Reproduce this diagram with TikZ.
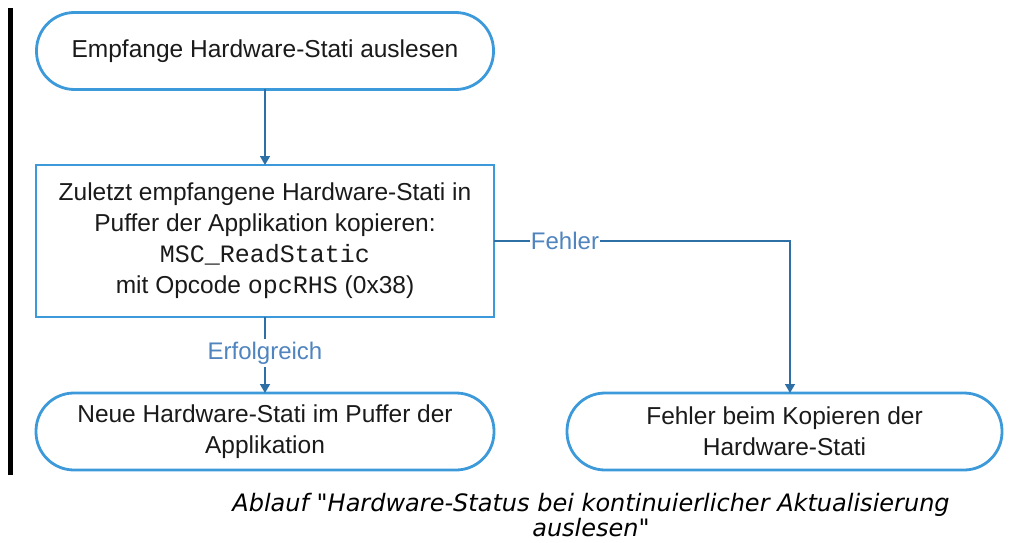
\documentclass[tikz,border=0pt]{standalone}
\usepackage{fontspec}
\setmainfont{Liberation Sans}
\setmonofont{Liberation Mono}
\newfontfamily\capfont{DejaVu Sans}
\usetikzlibrary{arrows.meta}
\definecolor{nodeblue}{HTML}{3C99DA}
\definecolor{lineblue}{HTML}{2E6FA6}
\definecolor{lblblue}{HTML}{4F84BF}
\definecolor{txt}{HTML}{1A1A1A}
\begin{document}
\begin{tikzpicture}[x=1pt,y=-1pt,
  every node/.style={inner sep=0pt, outer sep=0pt, text=txt},
  stadium/.style={draw=nodeblue, line width=2.8pt, rounded corners=38pt, align=center,
     font=\fontsize{24.5}{31}\selectfont},
  procbox/.style={draw=nodeblue, line width=2.8pt, align=center,
     font=\fontsize{24.5}{31}\selectfont},
  conn/.style={draw=lineblue, line width=1.5pt, -{Triangle[length=9pt,width=10pt]}},
  lbl/.style={fill=white, text=lblblue, font=\fontsize{24}{28}\selectfont, inner xsep=1pt, inner ysep=3pt},
  captxt/.style={font=\capfont\itshape\fontsize{24}{24}\selectfont, text=black}
]
\useasboundingbox (0,0) rectangle (1018,543);
\fill[black] (8,8) rectangle (13,475);

\node[stadium, minimum width=457pt, minimum height=77pt] (start) at (265,51) {Empfange Hardware-Stati auslesen};
\node[procbox, minimum width=458pt, minimum height=152pt] (copy) at (265,241)
  {Zuletzt empfangene Hardware-Stati in\\Puffer der Applikation kopieren:\\\texttt{\fontsize{25}{31}\selectfont MSC\_ReadStatic}\\mit Opcode \texttt{\fontsize{25}{31}\selectfont opcRHS} (0x38)};
\node[stadium, minimum width=458pt, minimum height=77pt] (ok) at (265,431.5) {Neue Hardware-Stati im Puffer der\\Applikation};
\node[stadium, minimum width=435pt, minimum height=77pt] (err) at (784.5,431.5) {Fehler beim Kopieren der\\Hardware-Stati};

\draw[conn] (start) -- (copy);
\draw[conn] (copy) -- (ok);
\draw[conn] (copy.east) -| ([xshift=5.5pt]err.north);

\node[lbl] (lok) at (265,353) {Erfolgreich};
\node[lbl] (lerr) at (565,241) {Fehler};

\node[captxt] (cap1) at (591,505) {Ablauf "Hardware-Status bei kontinuierlicher Aktualisierung};
\node[captxt] (cap2) at (591,528) {auslesen"};
\end{tikzpicture}
\end{document}
